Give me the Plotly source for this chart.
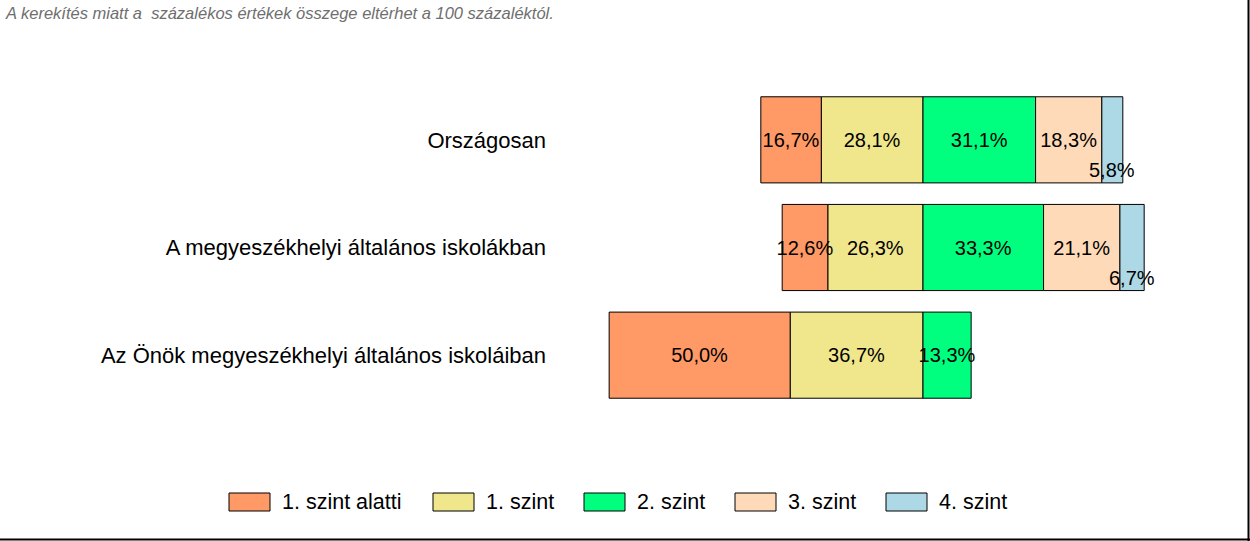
import plotly.graph_objects as go

categories = ["Országosan", "A megyeszékhelyi általános iskolákban", "Az Önök megyeszékhelyi általános iskoláiban"]
series_names = ["1. szint alatti", "1. szint", "2. szint", "3. szint", "4. szint"]
below1 = [16.7, 12.6, 50.0]
level1 = [28.1, 26.3, 36.7]
level2 = [31.1, 33.3, 13.3]
level3 = [18.3, 21.1, None]
level4 = [5.8, 6.7, None]
colors = ["#FF9966", "#F0E68C", "#00FF7F", "#FFDAB9", "#ADD8E6"]
note = "A kerekítés miatt a  százalékos értékek összege eltérhet a 100 százaléktól."

FONT = "Liberation Sans, Arial, sans-serif"
W, H = 1250, 541
ML, MR, MT, MB = 555, 10, 86, 132
PW, PH = W - ML - MR, H - MT - MB


def fmt(v):
    return "" if v is None else f"{v:.1f}%".replace(".", ",")


def px2x(p):
    return (p - ML) / PW


def py2y(p):
    return (H - MB - p) / PH


fig = go.Figure()

# order of addition: negatives nearest zero first
specs = [
    (1, level1, -1, True),
    (0, below1, -1, True),
    (2, level2, 1, True),
    (3, level3, 1, True),
    (4, level4, 1, False),
]
for idx, vals, sign, show_text in specs:
    xs = [None if v is None else sign * v for v in vals]
    fig.add_trace(go.Bar(
        y=categories, x=xs, orientation="h", name=series_names[idx],
        showlegend=False,
        marker=dict(color=colors[idx], line=dict(color="black", width=1)),
        text=[fmt(v) for v in vals] if show_text else None,
        textposition="inside" if show_text else "none",
        insidetextanchor="middle", constraintext="none", textangle=0,
        textfont=dict(family=FONT, size=20, color="black"),
        hoverinfo="skip",
    ))

annotations = []
shapes = []

# 4. szint labels sit below the bar centre
for cat, a, b, d in zip(categories, level2, level3, level4):
    if d is None:
        continue
    xc = a + b + d / 2
    annotations.append(dict(x=xc, y=cat, xref="x", yref="y", text=fmt(d), showarrow=False,
                            yshift=-30, font=dict(family=FONT, size=20, color="black")))

# legend (large rectangular swatches)
legend_x = [229, 433, 584, 735, 886]
for name, col, lx in zip(series_names, colors, legend_x):
    shapes.append(dict(type="rect", xref="paper", yref="paper",
                       x0=px2x(lx), x1=px2x(lx + 41), y0=py2y(511), y1=py2y(493),
                       fillcolor=col, line=dict(color="black", width=1)))
    annotations.append(dict(x=px2x(lx + 51), y=py2y(502), xref="paper", yref="paper", text=name,
                            showarrow=False, xanchor="left", yanchor="middle",
                            font=dict(family=FONT, size=21.5, color="black")))

annotations.append(dict(x=px2x(3), y=py2y(13), xref="paper", yref="paper", text=f"<i>{note}</i>",
                        showarrow=False, xanchor="left", yanchor="middle",
                        font=dict(family=FONT, size=16.5, color="#6E6E6E")))

# right and bottom frame lines
shapes.append(dict(type="line", xref="paper", yref="paper", x0=px2x(1248.5), x1=px2x(1248.5),
                   y0=py2y(0), y1=py2y(541), line=dict(color="black", width=2)))
shapes.append(dict(type="line", xref="paper", yref="paper", x0=px2x(0), x1=px2x(1250),
                   y0=py2y(539.5), y1=py2y(539.5), line=dict(color="black", width=2)))

zero_px = 923
scale = 3.62
xmin = (ML - zero_px) / scale
xmax = (W - MR - zero_px) / scale

fig.update_layout(
    width=W, height=H, barmode="relative", bargap=0.2,
    margin=dict(l=ML, r=MR, t=MT, b=MB),
    paper_bgcolor="white", plot_bgcolor="white",
    font=dict(family=FONT, size=20, color="black"),
    xaxis=dict(range=[xmin, xmax], visible=False, fixedrange=True),
    yaxis=dict(autorange="reversed", showgrid=False, zeroline=False, showline=False,
               ticks="", ticklabelstandoff=8, tickfont=dict(family=FONT, size=22, color="black")),
    annotations=annotations,
    shapes=shapes,
    showlegend=False,
)

fig.write_html("out.html", config={"displayModeBar": False},
               post_script="document.body.style.margin='0';document.body.style.overflow='hidden';")
